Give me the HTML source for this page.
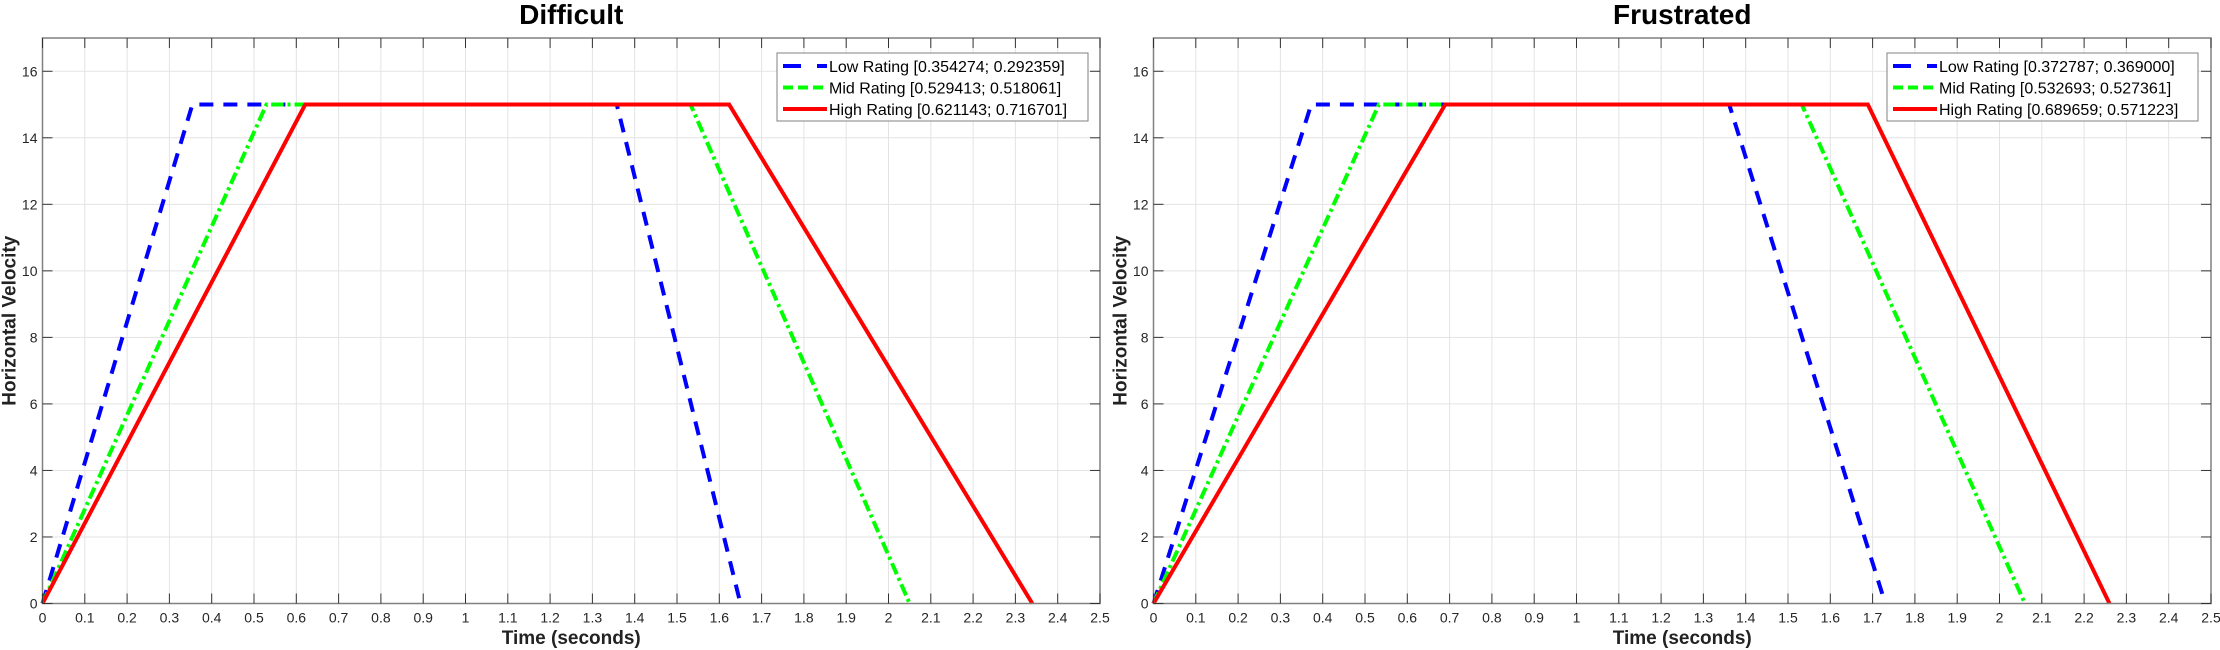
<!DOCTYPE html>
<html><head><meta charset="utf-8"><style>
html,body{margin:0;padding:0;background:#fff;}
svg{display:block;font-family:"Liberation Sans",Arial,sans-serif;}
</style></head><body>
<svg id="c" width="2220" height="650" xmlns="http://www.w3.org/2000/svg"></svg>
<script>
const xTicks=[0,0.1,0.2,0.3,0.4,0.5,0.6,0.7,0.8,0.9,1,1.1,1.2,1.3,1.4,1.5,1.6,1.7,1.8,1.9,2,2.1,2.2,2.3,2.4,2.5];
const yTicks=[0,2,4,6,8,10,12,14,16];
const panelTitles=["Difficult","Frustrated"];
const seriesNames=["Low Rating","Mid Rating","High Rating"];
const peakVel=15;
const diffAccel=[0.354274,0.529413,0.621143];
const diffDecel=[0.292359,0.518061,0.716701];
const diffEnd=[1.65,2.05,2.34];
const frusAccel=[0.372787,0.532693,0.689659];
const frusDecel=[0.369000,0.527361,0.571223];
const frusEnd=[1.73,2.06,2.26];
const panels=[
 {x0:42.5,x1:1100,accel:diffAccel,decel:diffDecel,end:diffEnd,lx:777},
 {x0:1153.5,x1:2211,accel:frusAccel,decel:frusDecel,end:frusEnd,lx:1887}
];
const colors=["#0000ff","#00ff00","#ff0000"];
const dashes=["14,10","12,4,3,4",""];
const NS="http://www.w3.org/2000/svg";
const svg=document.getElementById('c');
function mk(tag,attrs,parent){const e=document.createElementNS(NS,tag);for(const k in attrs)e.setAttribute(k,attrs[k]);(parent||svg).appendChild(e);return e;}
const yTop=38,yBot=603.5;
panels.forEach((p,pi)=>{
  const g=mk('g',{});
  
  
  const sx=v=>p.x0+(v/2.5)*(p.x1-p.x0);
  const sy=v=>yBot-(v/17)*(yBot-yTop);
  xTicks.forEach(t=>{const l=mk('line',{x1:sx(t),x2:sx(t),y1:yTop,y2:yBot,stroke:'#e3e3e3','stroke-width':1},g);
    });
  yTicks.forEach(t=>{const l=mk('line',{x1:p.x0,x2:p.x1,y1:sy(t),y2:sy(t),stroke:'#e3e3e3','stroke-width':1},g);
    });
  for(let i=0;i<3;i++){
    const a=p.accel[i],d=p.decel[i],e=p.end[i];
    const pts=[[0,0],[a,peakVel],[e-d,peakVel],[e,0]].map(q=>sx(q[0])+','+sy(q[1])).join(' ');
    const pl=mk('polyline',{points:pts,fill:'none',stroke:colors[i],'stroke-width':4,'stroke-dasharray':dashes[i]||'none'},g);
    
    
  }
  const b=mk('rect',{x:p.x0,y:yTop,width:p.x1-p.x0,height:yBot-yTop,fill:'none',stroke:'#808080','stroke-width':1.5},g);
  
  xTicks.forEach(t=>{
    mk('line',{x1:sx(t),x2:sx(t),y1:yBot,y2:yBot-10,stroke:'#333','stroke-width':1},g);
    mk('line',{x1:sx(t),x2:sx(t),y1:yTop,y2:yTop+10,stroke:'#333','stroke-width':1},g);
    const tx=mk('text',{x:sx(t),y:yBot+19,'text-anchor':'middle','font-size':14,fill:'#262626'},g);
    tx.textContent=String(t);
    
  });
  yTicks.forEach(t=>{
    mk('line',{x1:p.x0,x2:p.x0+10,y1:sy(t),y2:sy(t),stroke:'#333','stroke-width':1},g);
    mk('line',{x1:p.x1,x2:p.x1-10,y1:sy(t),y2:sy(t),stroke:'#333','stroke-width':1},g);
    const tx=mk('text',{x:p.x0-5,y:sy(t)+5,'text-anchor':'end','font-size':14,fill:'#262626'},g);
    tx.textContent=String(t);
    
  });
  const title=mk('text',{x:(p.x0+p.x1)/2,y:24,'text-anchor':'middle','font-size':28,'font-weight':'bold',fill:'#000'},g);
  title.textContent=panelTitles[pi];
  
  const xl=mk('text',{x:(p.x0+p.x1)/2,y:644,'text-anchor':'middle','font-size':19,'font-weight':'bold',fill:'#222'},g);
  xl.textContent='Time (seconds)';
  
  const ycx=p.x0-27,ycy=(yTop+yBot)/2;
  const yl=mk('text',{x:ycx,y:ycy,'text-anchor':'middle','font-size':19,'font-weight':'bold',fill:'#222',transform:'rotate(-90 '+ycx+' '+ycy+')'},g);
  yl.textContent='Horizontal Velocity';
  
  const lg=mk('g',{},g);
  
  mk('rect',{x:p.lx,y:53,width:311,height:68,fill:'#fff',stroke:'#808080','stroke-width':1},lg);
  for(let i=0;i<3;i++){
    const yy=66+i*21.5;
    const ent=mk('g',{},lg);
    
    mk('line',{x1:p.lx+6,x2:p.lx+50,y1:yy,y2:yy,stroke:colors[i],'stroke-width':4,'stroke-dasharray':i==0?'18,16':(i==1?'10,5':'none')},ent);
    const t=mk('text',{x:p.lx+52,y:yy+6,'font-size':16,fill:'#000'},ent);
    t.textContent=seriesNames[i]+' ['+p.accel[i].toFixed(6)+'; '+p.decel[i].toFixed(6)+']';
  }
});
</script>
</body></html>
